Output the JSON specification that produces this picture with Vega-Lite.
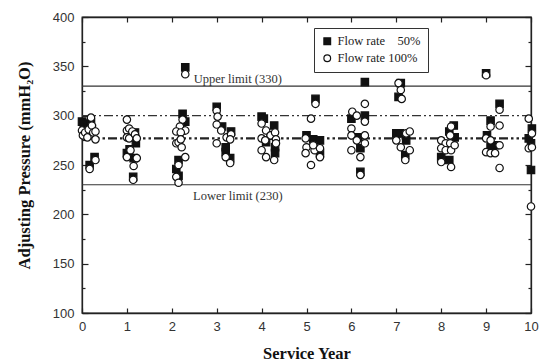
{
  "$schema": "https://vega.github.io/schema/vega-lite/v6.json",
  "width": 449,
  "height": 296,
  "autosize": {"type": "none"},
  "padding": {"left": 82, "top": 17, "right": 8, "bottom": 49},
  "background": "white",
  "config": {
    "view": {"stroke": "#222", "strokeWidth": 1.3},
    "axis": {"grid": false, "domainColor": "#222", "tickColor": "#222", "domainWidth": 1.3, "tickWidth": 1.2,
      "labelFont": "Liberation Sans", "labelFontSize": 13, "labelColor": "#333",
      "titleFont": "Liberation Serif", "titleFontSize": 16.5, "titleFontWeight": "bold", "titleColor": "#111"}
  },
  "datasets": {
    "points": [
      {"year": 0.0, "pressure": 294, "series": "Flow rate  50%"},
      {"year": 0.04, "pressure": 292, "series": "Flow rate  50%"},
      {"year": 0.12, "pressure": 288, "series": "Flow rate  50%"},
      {"year": 0.2, "pressure": 293, "series": "Flow rate  50%"},
      {"year": 0.22, "pressure": 287, "series": "Flow rate  50%"},
      {"year": 0.28, "pressure": 258, "series": "Flow rate  50%"},
      {"year": 0.17, "pressure": 250, "series": "Flow rate  50%"},
      {"year": 1.06, "pressure": 266, "series": "Flow rate  50%"},
      {"year": 1.0, "pressure": 262, "series": "Flow rate  50%"},
      {"year": 1.15, "pressure": 257, "series": "Flow rate  50%"},
      {"year": 1.2, "pressure": 272, "series": "Flow rate  50%"},
      {"year": 1.18, "pressure": 283, "series": "Flow rate  50%"},
      {"year": 1.14, "pressure": 238, "series": "Flow rate  50%"},
      {"year": 2.3, "pressure": 349, "series": "Flow rate  50%"},
      {"year": 2.24, "pressure": 302, "series": "Flow rate  50%"},
      {"year": 2.3, "pressure": 294, "series": "Flow rate  50%"},
      {"year": 2.15, "pressure": 255, "series": "Flow rate  50%"},
      {"year": 2.1, "pressure": 246, "series": "Flow rate  50%"},
      {"year": 2.15, "pressure": 239, "series": "Flow rate  50%"},
      {"year": 2.22, "pressure": 285, "series": "Flow rate  50%"},
      {"year": 3.0, "pressure": 309, "series": "Flow rate  50%"},
      {"year": 3.12, "pressure": 289, "series": "Flow rate  50%"},
      {"year": 3.2, "pressure": 268, "series": "Flow rate  50%"},
      {"year": 3.32, "pressure": 284, "series": "Flow rate  50%"},
      {"year": 3.2, "pressure": 263, "series": "Flow rate  50%"},
      {"year": 3.3, "pressure": 257, "series": "Flow rate  50%"},
      {"year": 4.0, "pressure": 299, "series": "Flow rate  50%"},
      {"year": 4.05, "pressure": 297, "series": "Flow rate  50%"},
      {"year": 4.28, "pressure": 290, "series": "Flow rate  50%"},
      {"year": 4.1, "pressure": 273, "series": "Flow rate  50%"},
      {"year": 4.3, "pressure": 268, "series": "Flow rate  50%"},
      {"year": 4.3, "pressure": 262, "series": "Flow rate  50%"},
      {"year": 4.2, "pressure": 280, "series": "Flow rate  50%"},
      {"year": 5.2, "pressure": 317, "series": "Flow rate  50%"},
      {"year": 5.0, "pressure": 280, "series": "Flow rate  50%"},
      {"year": 5.15, "pressure": 276, "series": "Flow rate  50%"},
      {"year": 5.3, "pressure": 275, "series": "Flow rate  50%"},
      {"year": 5.3, "pressure": 262, "series": "Flow rate  50%"},
      {"year": 6.3, "pressure": 334, "series": "Flow rate  50%"},
      {"year": 6.0, "pressure": 297, "series": "Flow rate  50%"},
      {"year": 6.3, "pressure": 300, "series": "Flow rate  50%"},
      {"year": 6.15, "pressure": 278, "series": "Flow rate  50%"},
      {"year": 6.2, "pressure": 267, "series": "Flow rate  50%"},
      {"year": 6.2, "pressure": 243, "series": "Flow rate  50%"},
      {"year": 7.1, "pressure": 333, "series": "Flow rate  50%"},
      {"year": 7.05, "pressure": 319, "series": "Flow rate  50%"},
      {"year": 7.0, "pressure": 282, "series": "Flow rate  50%"},
      {"year": 7.08, "pressure": 282, "series": "Flow rate  50%"},
      {"year": 7.22, "pressure": 275, "series": "Flow rate  50%"},
      {"year": 7.2, "pressure": 260, "series": "Flow rate  50%"},
      {"year": 8.28, "pressure": 290, "series": "Flow rate  50%"},
      {"year": 8.18, "pressure": 284, "series": "Flow rate  50%"},
      {"year": 8.3, "pressure": 278, "series": "Flow rate  50%"},
      {"year": 8.0, "pressure": 258, "series": "Flow rate  50%"},
      {"year": 8.18, "pressure": 255, "series": "Flow rate  50%"},
      {"year": 8.2, "pressure": 270, "series": "Flow rate  50%"},
      {"year": 9.0, "pressure": 343, "series": "Flow rate  50%"},
      {"year": 9.3, "pressure": 312, "series": "Flow rate  50%"},
      {"year": 9.1, "pressure": 295, "series": "Flow rate  50%"},
      {"year": 9.02, "pressure": 280, "series": "Flow rate  50%"},
      {"year": 9.1, "pressure": 268, "series": "Flow rate  50%"},
      {"year": 9.2, "pressure": 270, "series": "Flow rate  50%"},
      {"year": 10.02, "pressure": 287, "series": "Flow rate  50%"},
      {"year": 9.95, "pressure": 277, "series": "Flow rate  50%"},
      {"year": 10.0, "pressure": 272, "series": "Flow rate  50%"},
      {"year": 10.0, "pressure": 245, "series": "Flow rate  50%"},
      {"year": 0.0, "pressure": 285, "series": "Flow rate 100%"},
      {"year": 0.02, "pressure": 280, "series": "Flow rate 100%"},
      {"year": 0.07, "pressure": 283, "series": "Flow rate 100%"},
      {"year": 0.12, "pressure": 278, "series": "Flow rate 100%"},
      {"year": 0.15, "pressure": 286, "series": "Flow rate 100%"},
      {"year": 0.2, "pressure": 298, "series": "Flow rate 100%"},
      {"year": 0.22, "pressure": 290, "series": "Flow rate 100%"},
      {"year": 0.25, "pressure": 283, "series": "Flow rate 100%"},
      {"year": 0.3, "pressure": 276, "series": "Flow rate 100%"},
      {"year": 0.3, "pressure": 284, "series": "Flow rate 100%"},
      {"year": 0.17, "pressure": 246, "series": "Flow rate 100%"},
      {"year": 0.3, "pressure": 255, "series": "Flow rate 100%"},
      {"year": 1.0, "pressure": 296, "series": "Flow rate 100%"},
      {"year": 1.0, "pressure": 285, "series": "Flow rate 100%"},
      {"year": 1.05, "pressure": 287, "series": "Flow rate 100%"},
      {"year": 1.0, "pressure": 278, "series": "Flow rate 100%"},
      {"year": 1.05, "pressure": 277, "series": "Flow rate 100%"},
      {"year": 1.12, "pressure": 284, "series": "Flow rate 100%"},
      {"year": 1.18, "pressure": 281, "series": "Flow rate 100%"},
      {"year": 1.22, "pressure": 277, "series": "Flow rate 100%"},
      {"year": 1.0, "pressure": 258, "series": "Flow rate 100%"},
      {"year": 1.15, "pressure": 249, "series": "Flow rate 100%"},
      {"year": 1.22, "pressure": 257, "series": "Flow rate 100%"},
      {"year": 1.14, "pressure": 235, "series": "Flow rate 100%"},
      {"year": 1.08, "pressure": 265, "series": "Flow rate 100%"},
      {"year": 2.3, "pressure": 342, "series": "Flow rate 100%"},
      {"year": 2.24, "pressure": 296, "series": "Flow rate 100%"},
      {"year": 2.18, "pressure": 289, "series": "Flow rate 100%"},
      {"year": 2.1, "pressure": 284, "series": "Flow rate 100%"},
      {"year": 2.3, "pressure": 285, "series": "Flow rate 100%"},
      {"year": 2.2, "pressure": 283, "series": "Flow rate 100%"},
      {"year": 2.1, "pressure": 272, "series": "Flow rate 100%"},
      {"year": 2.15, "pressure": 273, "series": "Flow rate 100%"},
      {"year": 2.2, "pressure": 276, "series": "Flow rate 100%"},
      {"year": 2.22, "pressure": 268, "series": "Flow rate 100%"},
      {"year": 2.3, "pressure": 258, "series": "Flow rate 100%"},
      {"year": 2.15, "pressure": 250, "series": "Flow rate 100%"},
      {"year": 2.1, "pressure": 238, "series": "Flow rate 100%"},
      {"year": 2.15, "pressure": 232, "series": "Flow rate 100%"},
      {"year": 3.0, "pressure": 305, "series": "Flow rate 100%"},
      {"year": 3.02, "pressure": 299, "series": "Flow rate 100%"},
      {"year": 3.0, "pressure": 291, "series": "Flow rate 100%"},
      {"year": 3.1, "pressure": 285, "series": "Flow rate 100%"},
      {"year": 3.0, "pressure": 272, "series": "Flow rate 100%"},
      {"year": 3.22, "pressure": 278, "series": "Flow rate 100%"},
      {"year": 3.32, "pressure": 281, "series": "Flow rate 100%"},
      {"year": 3.3, "pressure": 276, "series": "Flow rate 100%"},
      {"year": 3.2, "pressure": 258, "series": "Flow rate 100%"},
      {"year": 3.3, "pressure": 252, "series": "Flow rate 100%"},
      {"year": 4.0, "pressure": 292, "series": "Flow rate 100%"},
      {"year": 4.1, "pressure": 285, "series": "Flow rate 100%"},
      {"year": 4.2, "pressure": 280, "series": "Flow rate 100%"},
      {"year": 4.0, "pressure": 277, "series": "Flow rate 100%"},
      {"year": 4.08, "pressure": 275, "series": "Flow rate 100%"},
      {"year": 4.3, "pressure": 283, "series": "Flow rate 100%"},
      {"year": 4.32, "pressure": 276, "series": "Flow rate 100%"},
      {"year": 4.32, "pressure": 272, "series": "Flow rate 100%"},
      {"year": 4.0, "pressure": 265, "series": "Flow rate 100%"},
      {"year": 4.1, "pressure": 258, "series": "Flow rate 100%"},
      {"year": 4.28, "pressure": 255, "series": "Flow rate 100%"},
      {"year": 5.2, "pressure": 312, "series": "Flow rate 100%"},
      {"year": 5.1, "pressure": 297, "series": "Flow rate 100%"},
      {"year": 4.98, "pressure": 277, "series": "Flow rate 100%"},
      {"year": 5.0, "pressure": 268, "series": "Flow rate 100%"},
      {"year": 4.98, "pressure": 262, "series": "Flow rate 100%"},
      {"year": 5.1, "pressure": 250, "series": "Flow rate 100%"},
      {"year": 5.18, "pressure": 265, "series": "Flow rate 100%"},
      {"year": 5.3, "pressure": 267, "series": "Flow rate 100%"},
      {"year": 5.3, "pressure": 258, "series": "Flow rate 100%"},
      {"year": 5.15, "pressure": 270, "series": "Flow rate 100%"},
      {"year": 6.02, "pressure": 304, "series": "Flow rate 100%"},
      {"year": 6.12, "pressure": 300, "series": "Flow rate 100%"},
      {"year": 6.3, "pressure": 312, "series": "Flow rate 100%"},
      {"year": 6.3, "pressure": 294, "series": "Flow rate 100%"},
      {"year": 6.0, "pressure": 287, "series": "Flow rate 100%"},
      {"year": 6.0, "pressure": 280, "series": "Flow rate 100%"},
      {"year": 6.12, "pressure": 275, "series": "Flow rate 100%"},
      {"year": 6.3, "pressure": 280, "series": "Flow rate 100%"},
      {"year": 6.3, "pressure": 272, "series": "Flow rate 100%"},
      {"year": 6.0, "pressure": 265, "series": "Flow rate 100%"},
      {"year": 6.2, "pressure": 258, "series": "Flow rate 100%"},
      {"year": 6.2, "pressure": 240, "series": "Flow rate 100%"},
      {"year": 7.05, "pressure": 333, "series": "Flow rate 100%"},
      {"year": 7.1, "pressure": 326, "series": "Flow rate 100%"},
      {"year": 7.12, "pressure": 317, "series": "Flow rate 100%"},
      {"year": 7.0, "pressure": 275, "series": "Flow rate 100%"},
      {"year": 7.22, "pressure": 282, "series": "Flow rate 100%"},
      {"year": 7.3, "pressure": 284, "series": "Flow rate 100%"},
      {"year": 7.1, "pressure": 268, "series": "Flow rate 100%"},
      {"year": 7.3, "pressure": 265, "series": "Flow rate 100%"},
      {"year": 7.2, "pressure": 255, "series": "Flow rate 100%"},
      {"year": 8.22, "pressure": 289, "series": "Flow rate 100%"},
      {"year": 8.2, "pressure": 280, "series": "Flow rate 100%"},
      {"year": 8.0, "pressure": 275, "series": "Flow rate 100%"},
      {"year": 8.1, "pressure": 272, "series": "Flow rate 100%"},
      {"year": 8.2, "pressure": 272, "series": "Flow rate 100%"},
      {"year": 8.0, "pressure": 267, "series": "Flow rate 100%"},
      {"year": 8.1, "pressure": 265, "series": "Flow rate 100%"},
      {"year": 8.22, "pressure": 265, "series": "Flow rate 100%"},
      {"year": 8.0, "pressure": 253, "series": "Flow rate 100%"},
      {"year": 8.22, "pressure": 248, "series": "Flow rate 100%"},
      {"year": 8.3, "pressure": 270, "series": "Flow rate 100%"},
      {"year": 9.0, "pressure": 341, "series": "Flow rate 100%"},
      {"year": 9.3, "pressure": 306, "series": "Flow rate 100%"},
      {"year": 9.3, "pressure": 290, "series": "Flow rate 100%"},
      {"year": 9.1, "pressure": 289, "series": "Flow rate 100%"},
      {"year": 9.0, "pressure": 277, "series": "Flow rate 100%"},
      {"year": 9.1, "pressure": 275, "series": "Flow rate 100%"},
      {"year": 9.0, "pressure": 263, "series": "Flow rate 100%"},
      {"year": 9.1, "pressure": 262, "series": "Flow rate 100%"},
      {"year": 9.2, "pressure": 262, "series": "Flow rate 100%"},
      {"year": 9.3, "pressure": 270, "series": "Flow rate 100%"},
      {"year": 9.3, "pressure": 247, "series": "Flow rate 100%"},
      {"year": 9.95, "pressure": 297, "series": "Flow rate 100%"},
      {"year": 10.02, "pressure": 282, "series": "Flow rate 100%"},
      {"year": 9.95, "pressure": 267, "series": "Flow rate 100%"},
      {"year": 10.02, "pressure": 268, "series": "Flow rate 100%"},
      {"year": 10.0, "pressure": 208, "series": "Flow rate 100%"}
    ]
  },
  "layer": [
    {
      "data": {"values": [{"pressure": 330}, {"pressure": 230}]},
      "mark": {"type": "rule", "color": "#333", "strokeWidth": 1.2},
      "encoding": {"y": {"field": "pressure", "type": "quantitative", "scale": {"domain": [100, 400]}, "axis": null}}
    },
    {
      "data": {"values": [{"pressure": 300}]},
      "mark": {"type": "rule", "color": "#333", "strokeWidth": 1.3, "strokeDash": [9, 3, 2, 3, 2, 3]},
      "encoding": {"y": {"field": "pressure", "type": "quantitative", "axis": null}}
    },
    {
      "data": {"values": [{"pressure": 277}]},
      "mark": {"type": "rule", "color": "#222", "strokeWidth": 2.2, "strokeDash": [9, 3, 2.5, 3, 2.5, 3]},
      "encoding": {"y": {"field": "pressure", "type": "quantitative", "axis": null}}
    },
    {
      "data": {"values": [
        {"year": 3.47, "pressure": 337, "label": "Upper limit (330)"},
        {"year": 3.47, "pressure": 219, "label": "Lower limit (230)"}
      ]},
      "mark": {"type": "text", "font": "Liberation Serif", "fontSize": 12.5, "color": "#333"},
      "encoding": {
        "x": {"field": "year", "type": "quantitative", "axis": null},
        "y": {"field": "pressure", "type": "quantitative", "axis": null},
        "text": {"field": "label"}
      }
    },
    {
      "data": {"name": "points"},
      "mark": {"type": "point", "filled": true, "stroke": "#111", "strokeWidth": 1.2, "size": 55, "opacity": 1},
      "encoding": {
        "x": {"field": "year", "type": "quantitative", "scale": {"domain": [0, 10], "nice": false},
          "axis": {"orient": "bottom", "title": "Service Year", "values": [0,1,2,3,4,5,6,7,8,9,10], "tickSize": -5, "labelPadding": 12, "titlePadding": 12, "labelFlush": false}},
        "y": {"field": "pressure", "type": "quantitative", "scale": {"domain": [100, 400], "nice": false},
          "axis": {"orient": "left", "title": "Adjusting Pressure (mmH₂O)",
            "values": [100,125,150,175,200,225,250,275,300,325,350,375,400],
            "labelExpr": "datum.value % 50 === 0 ? datum.label : ''",
            "tickSize": {"condition": {"test": "datum.value % 50 === 0", "value": -6}, "value": -3},
            "labelPadding": 14, "titlePadding": 20}},
        "shape": {"field": "series", "type": "nominal", "scale": {"domain": ["Flow rate  50%", "Flow rate 100%"], "range": ["square", "circle"]},
          "legend": {"title": null, "orient": "none", "legendX": 232, "legendY": 11, "strokeColor": "#333", "padding": 7, "fillColor": "white",
            "labelFont": "Liberation Serif", "labelFontSize": 12.5, "labelColor": "#222", "symbolSize": 45, "symbolStrokeWidth": 1.2, "rowPadding": 4,
            "labelExpr": "datum.value == 'Flow rate  50%' ? 'Flow rate \u2007 50%' : datum.label"}},
        "fill": {"field": "series", "type": "nominal", "scale": {"domain": ["Flow rate  50%", "Flow rate 100%"], "range": ["#111", "white"]},
          "legend": {"title": null, "orient": "none", "legendX": 232, "legendY": 11, "strokeColor": "#333", "padding": 7, "fillColor": "white",
            "labelFont": "Liberation Serif", "labelFontSize": 12.5, "labelColor": "#222", "symbolSize": 45, "symbolStrokeWidth": 1.2, "rowPadding": 4,
            "labelExpr": "datum.value == 'Flow rate  50%' ? 'Flow rate \u2007 50%' : datum.label"}}
      }
    },
    {
      "data": {"values": [{"year": 0, "pressure": 100}]},
      "mark": {"type": "point", "opacity": 0},
      "encoding": {
        "x": {"field": "year", "type": "quantitative",
          "axis": {"orient": "top", "title": null, "labels": false, "values": [0,1,2,3,4,5,6,7,8,9,10], "tickSize": -5}},
        "y": {"field": "pressure", "type": "quantitative",
          "axis": {"orient": "right", "title": null, "labels": false,
            "values": [100,125,150,175,200,225,250,275,300,325,350,375,400],
            "tickSize": {"condition": {"test": "datum.value % 50 === 0", "value": -6}, "value": -3}}}
      }
    }
  ],
  "resolve": {"axis": {"x": "independent", "y": "independent"}}
}
